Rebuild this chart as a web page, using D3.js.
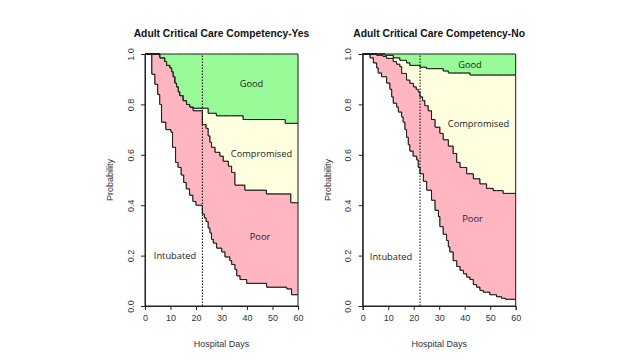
<!DOCTYPE html>
<html>
<head>
<meta charset="utf-8">
<script src="https://cdn.jsdelivr.net/npm/d3@7"></script>
<style>
  html, body { margin: 0; padding: 0; background: #fff; }
  svg { display: block; }
</style>
</head>
<body>
<svg id="chart" width="640" height="360"></svg>
<script>
// ---------- DATA ----------
const titles = ["Adult Critical Care Competency-Yes", "Adult Critical Care Competency-No"];
const stateNames = ["Intubated", "Poor", "Compromised", "Good"];
const xTicks = [0, 10, 20, 30, 40, 50, 60];
const yTicks = [0, 0.2, 0.4, 0.6, 0.8, 1.0];
const markerDay = 22.5;

// Panel "Yes": cumulative step curves (value holds from that day onward)
const yesIntubDays = [0, 2.7, 3.9, 5.0, 5.8, 6.5, 8.2, 10.2, 10.8, 12.0, 13.0, 14.2, 15.2, 16.2, 17.5, 18.8, 20.0, 22.5, 23.3, 24.0, 24.8, 25.5, 26.1, 26.8, 28.1, 30.1, 31.4, 33.3, 34.0, 35.3, 36.0, 37.3, 39.9, 47.7, 55.6, 57.5];
const yesIntub     = [1.0, 0.92, 0.88, 0.84, 0.80, 0.73, 0.70, 0.69, 0.63, 0.57, 0.55, 0.52, 0.49, 0.465, 0.44, 0.415, 0.40, 0.365, 0.35, 0.335, 0.31, 0.29, 0.265, 0.25, 0.23, 0.215, 0.195, 0.18, 0.165, 0.145, 0.12, 0.105, 0.09, 0.075, 0.068, 0.045];
const yesPoorDays = [0, 5.9, 7.8, 8.5, 9.8, 10.5, 11.1, 11.8, 12.4, 13.1, 13.7, 15.0, 16.3, 17.6, 18.9, 22.5, 24.0, 24.8, 25.5, 26.1, 27.5, 29.4, 30.7, 32.7, 34.0, 35.3, 39.2, 47.6, 57.2];
const yesPoor     = [1.0, 0.985, 0.97, 0.955, 0.945, 0.93, 0.91, 0.885, 0.87, 0.85, 0.835, 0.815, 0.80, 0.79, 0.775, 0.72, 0.705, 0.675, 0.65, 0.63, 0.61, 0.595, 0.575, 0.555, 0.53, 0.48, 0.46, 0.445, 0.41];
const yesCompDays = [0, 5.9, 7.8, 8.5, 9.8, 10.5, 11.1, 11.8, 12.4, 13.1, 13.7, 15.0, 16.3, 17.6, 18.9, 24.8, 28.0, 38.5, 55.0];
const yesComp     = [1.0, 0.985, 0.97, 0.955, 0.945, 0.93, 0.91, 0.885, 0.87, 0.85, 0.835, 0.815, 0.80, 0.79, 0.785, 0.765, 0.755, 0.74, 0.725];

// Panel "No"
const noIntubDays = [0, 2.9, 4.2, 5.5, 6.1, 7.4, 9.4, 10.7, 11.4, 12.0, 13.3, 14.0, 15.3, 15.9, 16.6, 17.2, 17.9, 18.5, 19.8, 21.2, 21.8, 22.5, 23.8, 25.1, 27.0, 28.4, 29.7, 30.3, 31.6, 32.9, 33.6, 34.2, 35.5, 36.9, 38.2, 39.5, 40.8, 42.1, 43.4, 44.7, 46.0, 47.3, 49.9, 52.5, 54.5, 56.0];
const noIntub     = [1.0, 0.985, 0.965, 0.945, 0.925, 0.91, 0.885, 0.86, 0.83, 0.805, 0.79, 0.77, 0.75, 0.73, 0.70, 0.67, 0.64, 0.615, 0.595, 0.58, 0.55, 0.525, 0.495, 0.46, 0.42, 0.38, 0.355, 0.315, 0.285, 0.26, 0.235, 0.215, 0.18, 0.157, 0.142, 0.128, 0.115, 0.105, 0.085, 0.075, 0.062, 0.055, 0.045, 0.037, 0.031, 0.027];
const noPoorDays = [0, 5.5, 8.0, 9.4, 12.0, 13.3, 14.6, 15.3, 17.2, 18.5, 19.9, 21.0, 21.8, 22.5, 23.5, 24.4, 25.7, 27.0, 28.4, 30.3, 31.6, 33.6, 35.5, 36.9, 38.2, 40.8, 43.4, 46.0, 48.6, 51.2, 55.1];
const noPoor     = [1.0, 0.995, 0.99, 0.983, 0.97, 0.96, 0.95, 0.923, 0.897, 0.884, 0.87, 0.86, 0.85, 0.83, 0.815, 0.795, 0.775, 0.74, 0.71, 0.685, 0.66, 0.635, 0.605, 0.57, 0.55, 0.525, 0.505, 0.485, 0.467, 0.458, 0.447];
const noCompDays = [0, 8.7, 12.0, 14.6, 17.2, 18.5, 22.5, 25.0, 31.6, 33.6, 42.1];
const noComp     = [1.0, 0.995, 0.985, 0.975, 0.965, 0.955, 0.948, 0.942, 0.933, 0.925, 0.917];

// state colours
const stateColors = ["#ffffff", "#ffb6c1", "#ffffe0", "#98fb98"];

// ---------- DRAWING ----------
const svg = d3.select("#chart");
const panels = [
  { title: titles[0], curves: [[yesIntubDays, yesIntub], [yesPoorDays, yesPoor], [yesCompDays, yesComp]],
    left: 145, right: 298, labels: [[175, 255], [260, 236], [261.5, 153], [251.5, 83]] },
  { title: titles[1], curves: [[noIntubDays, noIntub], [noPoorDays, noPoor], [noCompDays, noComp]],
    left: 362.7, right: 515.7, labels: [[391, 256], [472.5, 218], [478.5, 123], [470, 64.5]] }
];
const plotTop = 54, plotBottom = 306;

function stepFn(days, vals) {
  return t => {
    if (t >= 60) t = 59.9999;
    const i = Math.max(0, d3.bisectRight(days, t) - 1);
    return vals[i];
  };
}

panels.forEach(p => {
  const x = d3.scaleLinear().domain([0, 60]).range([p.left, p.right]);
  const y = d3.scaleLinear().domain([0, 1]).range([plotBottom, plotTop]);
  const g = svg.append("g");

  const fns = p.curves.map(c => stepFn(c[0], c[1]));
  const times = Array.from(new Set([].concat(...p.curves.map(c => c[0])).concat([60]))).sort((a, b) => a - b);

  const bounds = [() => 0, fns[0], fns[1], fns[2], () => 1];
  for (let s = 0; s < 4; s++) {
    const lo = bounds[s], hi = bounds[s + 1];
    const area = d3.area()
      .x(t => x(t))
      .y0(t => y(lo(t)))
      .y1(t => y(hi(t)))
      .curve(d3.curveStepAfter);
    g.append("path")
      .datum(times)
      .attr("d", area)
      .attr("fill", stateColors[s])
      .attr("stroke", "#1a1a1a")
      .attr("stroke-width", 1)
      .attr("stroke-linejoin", "miter");
  }

  // dotted marker line
  g.append("line")
    .attr("x1", x(markerDay)).attr("x2", x(markerDay))
    .attr("y1", y(0)).attr("y2", y(1))
    .attr("stroke", "#000").attr("stroke-width", 1)
    .attr("stroke-dasharray", "1.5,1.5");

  // state labels
  stateNames.forEach((n, i) => {
    g.append("text")
      .attr("x", p.labels[i][0]).attr("y", p.labels[i][1])
      .attr("text-anchor", "middle").attr("dominant-baseline", "central")
      .attr("font-family", "'Open Sans', sans-serif").attr("font-size", 9.3)
      .attr("fill", "#222")
      .text(n);
  });

  // axes
  const xa = g.append("g").attr("transform", `translate(0,${plotBottom})`)
    .call(d3.axisBottom(x).tickValues(xTicks).tickSize(4).tickPadding(5).tickFormat(d3.format("d")));
  const ya = g.append("g").attr("transform", `translate(${p.left},0)`)
    .call(d3.axisLeft(y).tickValues(yTicks).tickSize(4).tickFormat(d3.format(".1f")));
  [xa, ya].forEach(a => {
    a.select(".domain").attr("stroke", "#222");
    a.selectAll(".tick line").attr("stroke", "#222");
    a.selectAll("text").attr("font-family", "'Liberation Sans', Arial, sans-serif")
      .attr("font-size", 9).attr("fill", "#333");
  });
  ya.selectAll(".tick text")
    .attr("x", null).attr("dy", null)
    .attr("text-anchor", "middle")
    .attr("dominant-baseline", "central")
    .attr("transform", `translate(${-14.5},0) rotate(-90)`);

  // axis titles
  g.append("text")
    .attr("x", (p.left + p.right) / 2).attr("y", 346.5)
    .attr("text-anchor", "middle")
    .attr("font-family", "'Liberation Sans', Arial, sans-serif").attr("font-size", 9)
    .attr("fill", "#333").text("Hospital Days");
  g.append("text")
    .attr("transform", `translate(${p.left - 35},${(plotTop + plotBottom) / 2}) rotate(-90)`)
    .attr("text-anchor", "middle").attr("dominant-baseline", "central")
    .attr("font-family", "'Liberation Sans', Arial, sans-serif").attr("font-size", 9)
    .attr("fill", "#333").text("Probability");

  // title
  g.append("text")
    .attr("x", (p.left + p.right) / 2).attr("y", 37)
    .attr("text-anchor", "middle")
    .attr("font-family", "'Liberation Sans', Arial, sans-serif").attr("font-size", 10.3)
    .attr("font-weight", "bold").attr("fill", "#111")
    .text(p.title);
});
</script>
</body>
</html>
